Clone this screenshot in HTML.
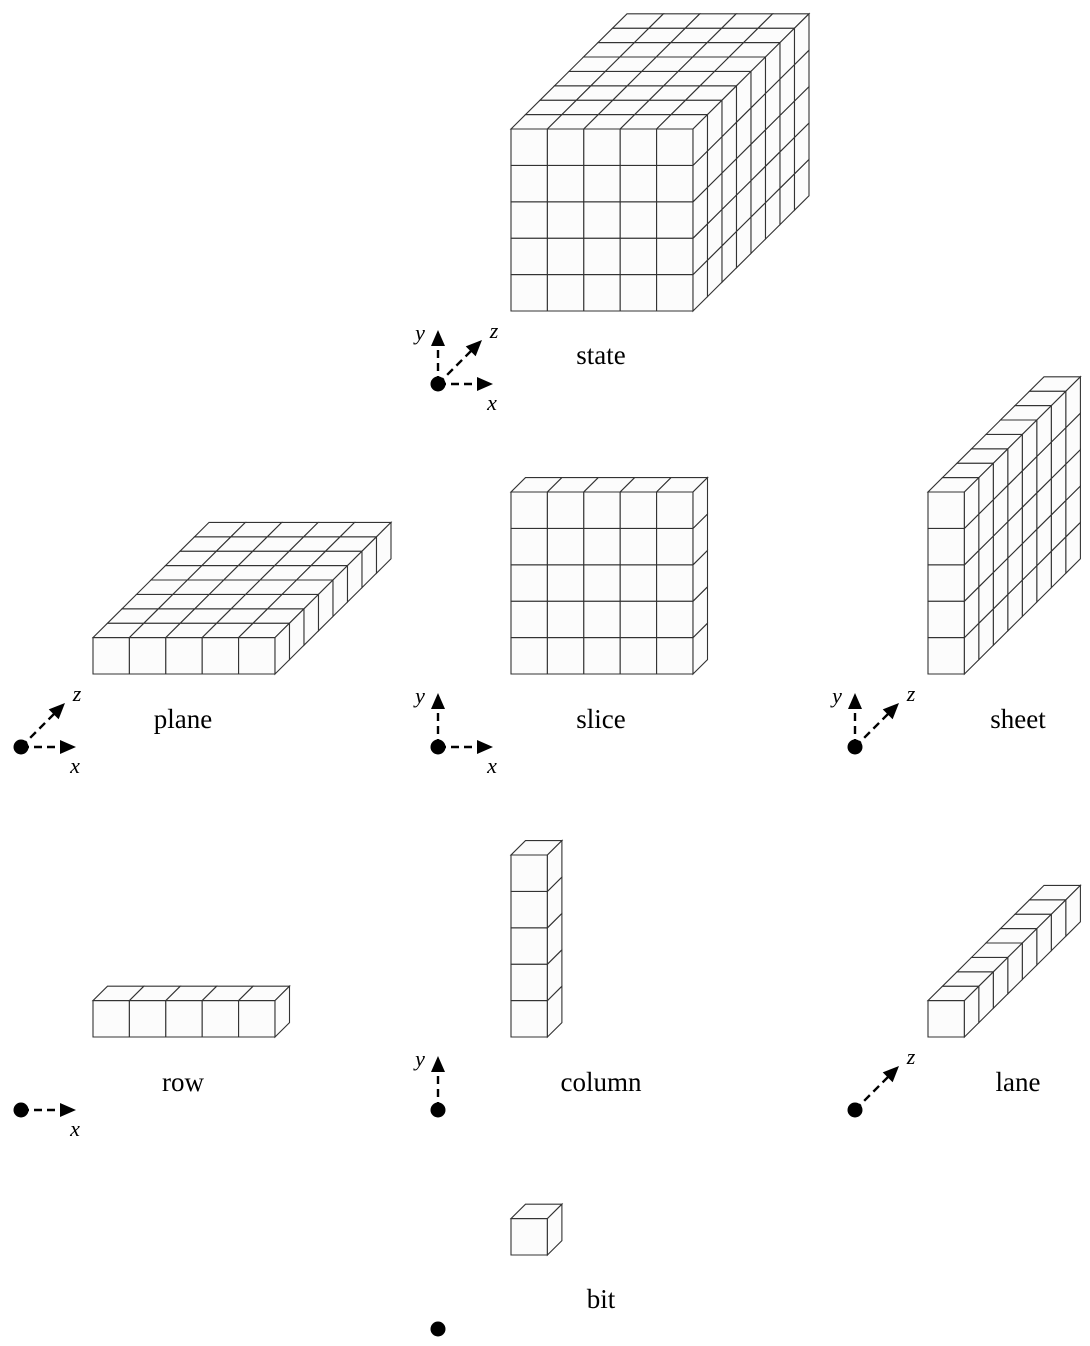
<!DOCTYPE html>
<html><head><meta charset="utf-8"><style>
html,body{margin:0;padding:0;background:#fff;}
svg{display:block;}
.lbl{font-family:"Liberation Serif",serif;font-size:27px;fill:#000;text-anchor:middle;}
.ax{font-family:"Liberation Serif",serif;font-style:italic;font-size:22px;fill:#000;text-anchor:middle;}
</style></head><body>
<svg id="s" width="1090" height="1346" xmlns="http://www.w3.org/2000/svg">
<text class="lbl" x="601" y="364">state</text>
<text class="lbl" x="183" y="728">plane</text>
<text class="lbl" x="601" y="728">slice</text>
<text class="lbl" x="1018" y="728">sheet</text>
<text class="lbl" x="183" y="1091">row</text>
<text class="lbl" x="601" y="1091">column</text>
<text class="lbl" x="1018" y="1091">lane</text>
<text class="lbl" x="601" y="1308">bit</text>
</svg>
<script>
var S=document.getElementById('s'),NS='http://www.w3.org/2000/svg';
var c=36.4,dx=14.5,dy=-14.4;
function el(t,a){var e=document.createElementNS(NS,t);for(var k in a)e.setAttribute(k,a[k]);S.appendChild(e);return e;}
function poly(p){el('polygon',{points:p.map(function(q){return q[0].toFixed(1)+','+q[1].toFixed(1)}).join(' '),fill:'#fcfcfc',stroke:'#333','stroke-width':1.1});}
function box(x0,y0,nx,ny,nz){
 var i,j;
 for(i=0;i<nx;i++)for(j=0;j<ny;j++){var x=x0+i*c,y=y0-(j+1)*c;poly([[x,y],[x+c,y],[x+c,y+c],[x,y+c]]);}
 var yt=y0-ny*c;
 for(i=0;i<nx;i++)for(j=0;j<nz;j++){var x=x0+i*c+j*dx,y=yt+j*dy;poly([[x,y],[x+c,y],[x+c+dx,y+dy],[x+dx,y+dy]]);}
 var xr=x0+nx*c;
 for(i=0;i<nz;i++)for(j=0;j<ny;j++){var x=xr+i*dx,y=y0-j*c+i*dy;poly([[x,y],[x+dx,y+dy],[x+dx,y+dy-c],[x,y-c]]);}
}
box(511,311,5,5,8);
box(93,674,5,1,8);
box(511,674,5,5,1);
box(928,674,1,5,8);
box(93,1037,5,1,1);
box(511,1037,1,5,1);
box(928,1037,1,1,8);
box(511,1255,1,1,1);
function arrow(x1,y1,x2,y2){
 var L=Math.hypot(x2-x1,y2-y1),ux=(x2-x1)/L,uy=(y2-y1)/L,h=16,w=7;
 var bx=x2-ux*h,by=y2-uy*h;
 el('line',{x1:x1,y1:y1,x2:bx+ux*2,y2:by+uy*2,stroke:'#000','stroke-width':2.4,'stroke-dasharray':'8,5'});
 el('polygon',{points:x2+','+y2+' '+(bx-uy*w)+','+(by+ux*w)+' '+(bx+uy*w)+','+(by-ux*w),fill:'#000'});
}
function axes(x,y,ax){
 if(ax.indexOf('x')>=0){arrow(x,y,x+55,y);var t=el('text',{'class':'ax',x:x+54,y:y+26});t.textContent='x';}
 if(ax.indexOf('y')>=0){arrow(x,y,x,y-54);var t=el('text',{'class':'ax',x:x-18,y:y-44});t.textContent='y';}
 if(ax.indexOf('z')>=0){arrow(x,y,x+44,y-44);var t=el('text',{'class':'ax',x:x+56,y:y-46});t.textContent='z';}
 el('circle',{cx:x,cy:y,r:7.5,fill:'#000'});
}
axes(438,384,'xyz');
axes(21,747,'xz');
axes(438,747,'xy');
axes(855,747,'yz');
axes(21,1110,'x');
axes(438,1110,'y');
axes(855,1110,'z');
axes(438,1329,'');
</script>
</body></html>
